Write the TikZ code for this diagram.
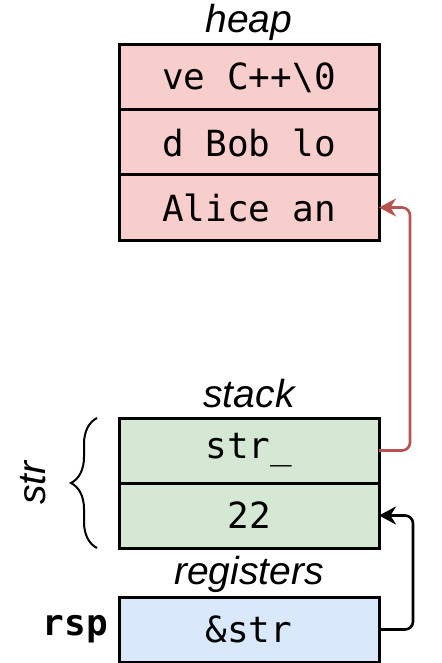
\documentclass[tikz,border=0pt]{standalone}
\usepackage{fontspec}
\setmainfont{Liberation Sans}
\setmonofont{DejaVu Sans Mono}
\usetikzlibrary{positioning,arrows.meta,decorations.pathreplacing}
\definecolor{heapred}{RGB}{248,206,204}
\definecolor{stackgreen}{RGB}{213,232,212}
\definecolor{regblue}{RGB}{218,232,252}
\definecolor{ptrred}{RGB}{184,84,80}
\tikzset{
    cell/.style={draw, line width=1.5pt, minimum width=130pt, minimum height=32.5pt,
        outer sep=0pt, inner sep=0pt, font=\fontsize{18}{20}\selectfont\ttfamily},
    heapcell/.style={cell, fill=heapred},
    stackcell/.style={cell, fill=stackgreen},
    regcell/.style={cell, fill=regblue},
    lbl/.style={font=\fontsize{19.5}{22}\selectfont\itshape, inner sep=0pt},
    ptr/.style={line width=1.3pt, rounded corners=4pt, -{Stealth[length=8.5pt,width=9pt]}}
}

\begin{document}
\begin{tikzpicture}[x=0.5pt, y=-0.5pt]
    \useasboundingbox (0,0) rectangle (442,663);

    % Heap
    \foreach \i/\txt in {1/ve C++\textbackslash0, 2/d Bob lo, 3/Alice an} {
        \node[heapcell] (heap\i) at (249, {12.5+65*\i}) {\txt};
    }
    \node[lbl, anchor=base] (heaplbl) at ([yshift=6pt]heap1.north) {heap};

    % Stack
    \node[stackcell] (stack1) at (249,450.5) {str\_};
    \node[stackcell, below=0pt of stack1] (stack2) {22};
    \node[lbl, anchor=base] (stacklbl) at ([yshift=5.5pt]stack1.north) {stack};

    % Llave de str
    \coordinate (bracebot) at ([xshift=-11pt]stack2.south west);
    \coordinate (bracetop) at ([xshift=-11pt]stack1.north west);
    \draw[line width=1pt, decorate, decoration={brace, amplitude=13pt}]
        (bracebot) -- (bracetop);
    \node[lbl, rotate=90, anchor=base] (strlbl) at (45,483) {str};

    % Registros
    \node[regcell] (reg) at (249,629.5) {\&str};
    \node[lbl, anchor=base] (reglbl) at ([yshift=6.5pt]reg.north) {registers};
    \node[left=2pt of reg, font=\fontsize{18}{20}\selectfont\ttfamily\bfseries] (rsp) {rsp};

    % Punteros
    \draw[ptr, ptrred] (stack1.east) -- ++(15.5pt,0) |- (heap3.east);
    \draw[ptr] (reg.east) -- ++(17pt,0) |- (stack2.east);
\end{tikzpicture}
\end{document}
